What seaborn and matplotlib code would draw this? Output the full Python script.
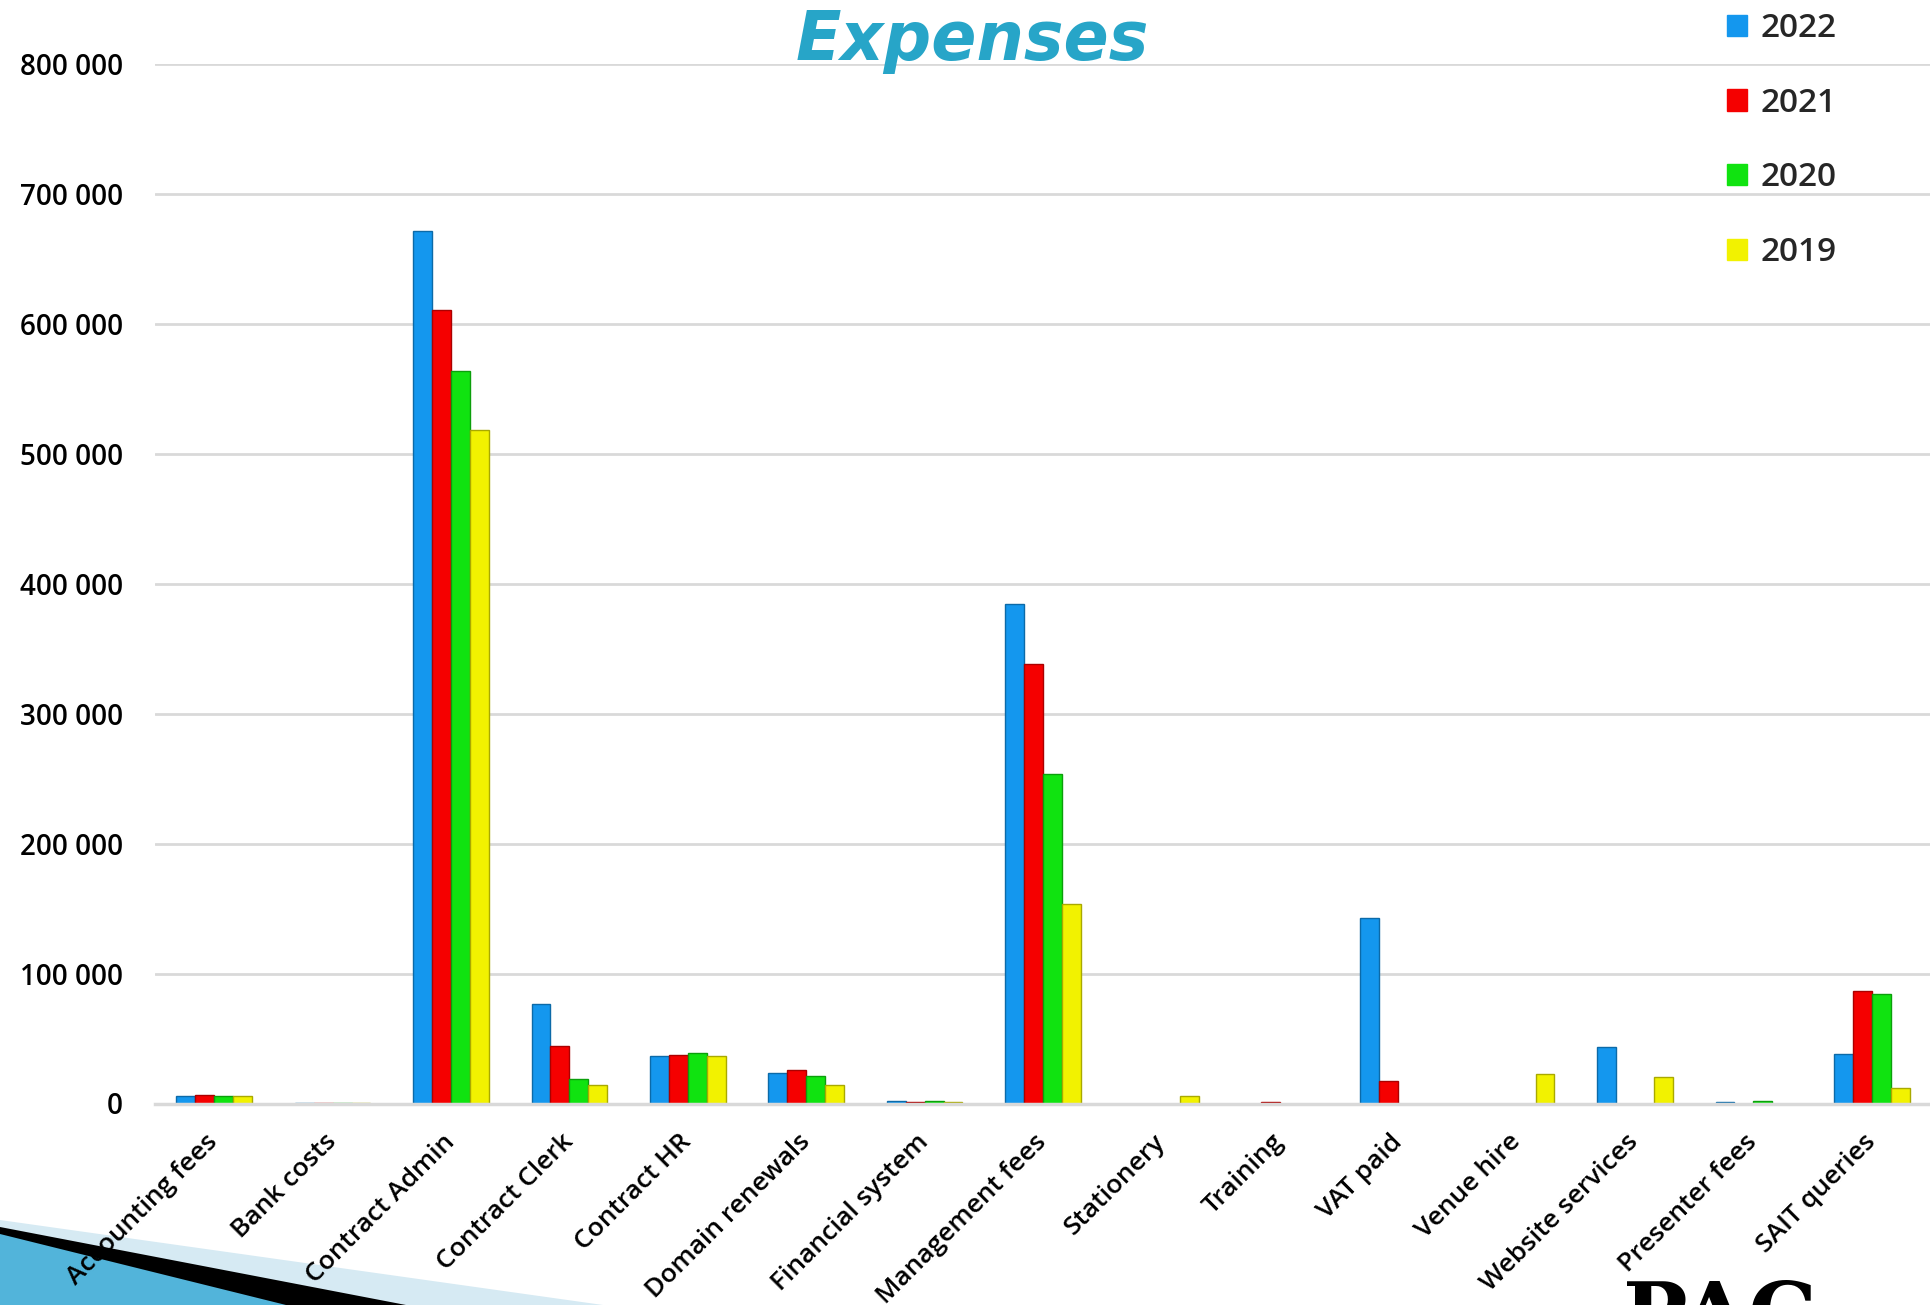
import matplotlib
matplotlib.use("Agg")
import matplotlib.pyplot as plt
from matplotlib.patches import Polygon
from matplotlib.ticker import FuncFormatter
import seaborn as sns
import pandas as pd
import colorsys

# Expense categories and yearly values
categories = ["Accounting fees", "Bank costs", "Contract Admin", "Contract Clerk",
              "Contract HR", "Domain renewals", "Financial system", "Management fees",
              "Stationery", "Training", "VAT paid", "Venue hire", "Website services",
              "Presenter fees", "SAIT queries"]
years = ["2022", "2021", "2020", "2019"]
v2022 = [5600, 600, 671400, 76700, 36900, 23800, 2300, 384500, 0, 0, 143000, 0, 43600, 1500, 37700]
v2021 = [6900, 600, 610800, 44500, 37400, 25900, 1500, 338000, 0, 1000, 17200, 0, 0, 0, 86200]
v2020 = [5400, 600, 563400, 18500, 38500, 20800, 2300, 253800, 0, 0, 0, 0, 0, 2300, 84300]
v2019 = [5400, 600, 518000, 14100, 36900, 14100, 1500, 153400, 5600, 0, 0, 22800, 20200, 0, 11800]
colors = {"2022": "#1497EE", "2021": "#F50000", "2020": "#10E310", "2019": "#F2F200"}

rows = []
for yr, vals in zip(years, [v2022, v2021, v2020, v2019]):
    for cat, v in zip(categories, vals):
        rows.append({"Category": cat, "Year": yr, "Value": v})
df = pd.DataFrame(rows)

sns.set_theme(style="white")
plt.rcParams["font.family"] = ["Open Sans", "DejaVu Sans"]
plt.rcParams["font.weight"] = "semibold"

W, H = 1931, 1305
fig = plt.figure(figsize=(W / 100, H / 100), dpi=100)
ax = fig.add_axes([155 / W, 201.5 / H, 1776 / W, 1039.8 / H])

sns.barplot(data=df, x="Category", y="Value", hue="Year", order=categories,
            hue_order=years, palette=colors, width=0.64, gap=0, ax=ax,
            errorbar=None, legend=False, saturation=1)

# darker edges give the bars a bit of bevel
for p in ax.patches:
    r, g, b, _ = p.get_facecolor()
    h, l, s = colorsys.rgb_to_hls(r, g, b)
    p.set_edgecolor(colorsys.hls_to_rgb(h, l * 0.7, s))
    p.set_linewidth(1)

ax.set_xlim(-0.5, len(categories) - 0.5)
ax.set_ylim(0, 800000)
ax.set_yticks(range(0, 800001, 100000))
ax.yaxis.set_major_formatter(FuncFormatter(lambda v, _: f"{int(v):,}".replace(",", " ")))
ax.set_xlabel("")
ax.set_ylabel("")
ax.yaxis.grid(True, color="#D9D9D9", linewidth=2)
ax.set_axisbelow(True)
for side in ["top", "right", "left"]:
    ax.spines[side].set_visible(False)
ax.spines["bottom"].set_color("#D9D9D9")
ax.spines["bottom"].set_linewidth(2.5)
ax.tick_params(axis="y", length=0, pad=23, labelsize=20, labelcolor="black")
ax.tick_params(axis="x", length=0, pad=25, labelsize=19, labelcolor="black")
plt.setp(ax.get_xticklabels(), rotation=45, ha="right", va="center", rotation_mode="anchor")

# legend at the top right
handles = [plt.Rectangle((0, 0), 1, 1, facecolor=colors[y], edgecolor=colors[y]) for y in years]
fig.legend(handles, years, loc="upper left", bbox_to_anchor=(1697 / W, 1 + 18 / H),
           frameon=False, fontsize=24, handlelength=0.6, handleheight=0.6,
           handletextpad=0.4, labelspacing=1.25)

# title
fig.text(972 / W, 1 - 60 / H, "Expenses", ha="center", va="baseline", fontsize=48,
         style="italic", fontweight="semibold", color="#27A5C8", family="DejaVu Sans")

# slide decoration in the bottom-left corner
def fig_poly(pts, color):
    poly = Polygon([(x / W, 1 - y / H) for x, y in pts], closed=True,
                   transform=fig.transFigure, facecolor=color, edgecolor="none", zorder=-1)
    fig.patches.append(poly)

fig_poly([(0, 1220), (603, 1305), (0, 1305)], "#D6EAF3")
fig_poly([(0, 1227), (406, 1305), (0, 1305)], "black")
fig_poly([(0, 1234), (286, 1305), (0, 1305)], "#52B4DA")

# logo peeking in at the bottom right
fig.text(1720 / W, 1 - 1278 / H, "PAC", ha="center", va="top", fontsize=62,
         fontweight="bold", family="DejaVu Serif", color="black")

fig.savefig("out.png", dpi=100)
